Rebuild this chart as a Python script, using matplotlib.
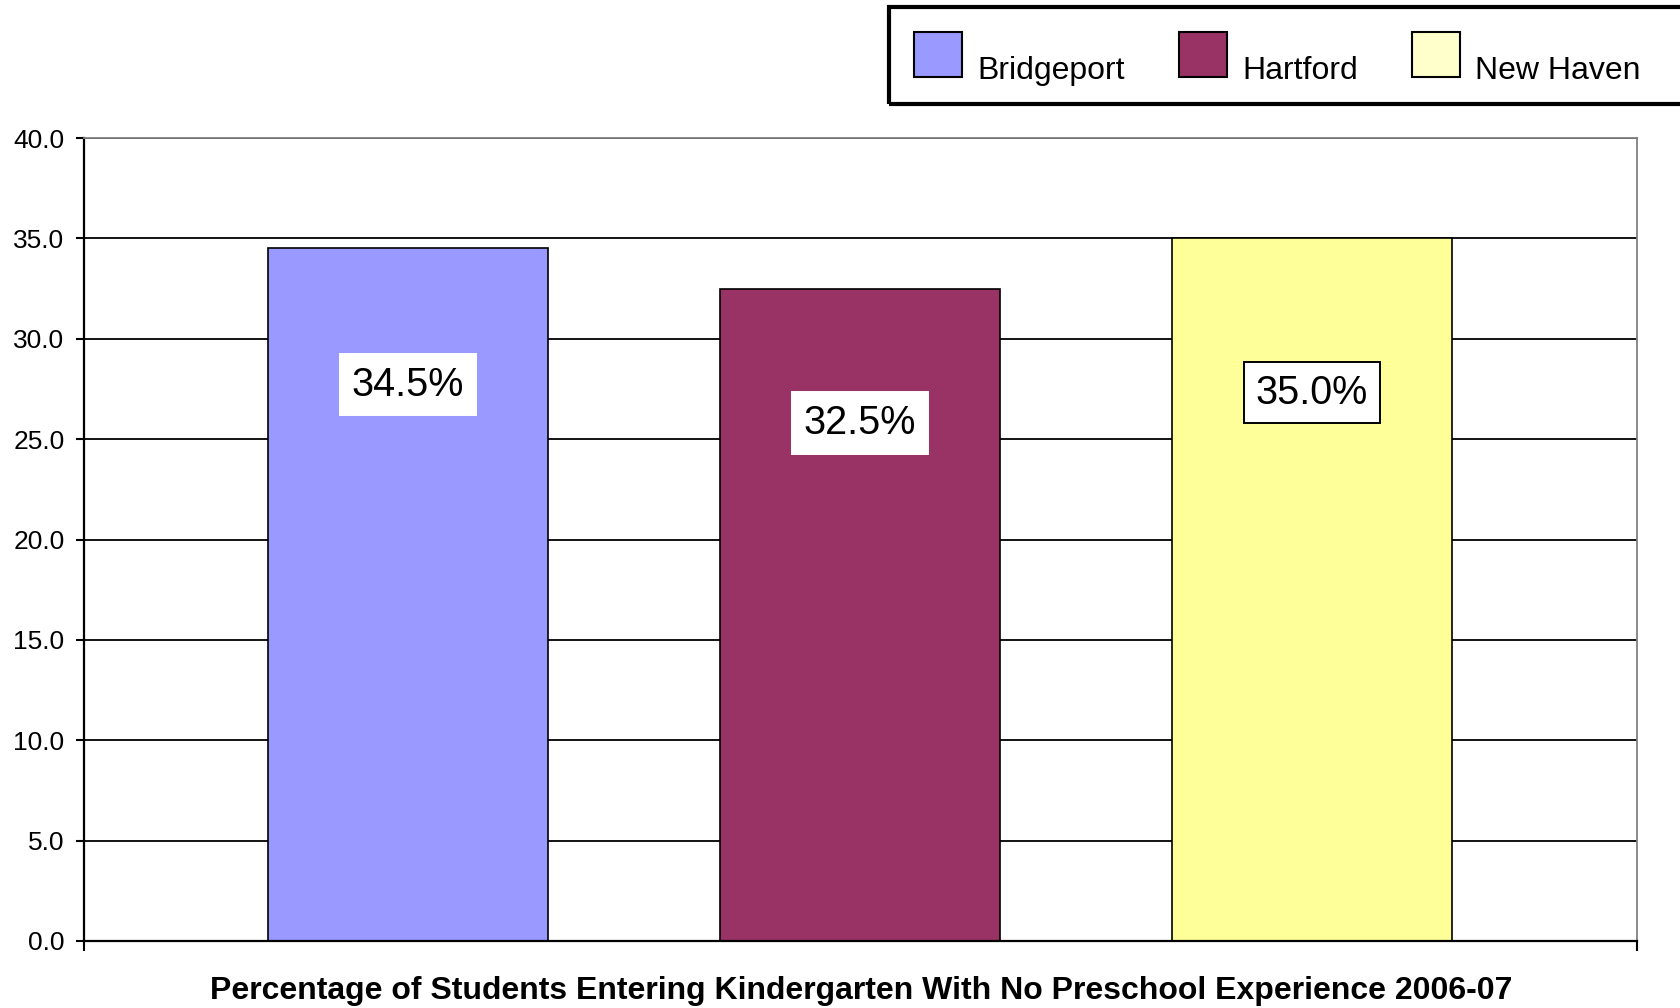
import matplotlib
matplotlib.use("Agg")
import matplotlib.pyplot as plt
from matplotlib.patches import Patch, Rectangle
from matplotlib.transforms import ScaledTranslation

plt.rcParams['font.family'] = ['Liberation Sans', 'DejaVu Sans']

# data
cities = ['Bridgeport', 'Hartford', 'New Haven']
pct_no_preschool = [34.5, 32.5, 35.0]
bar_colors = ['#9999FF', '#993366', '#FFFF99']
legend_colors = ['#9999FF', '#993366', '#FFFFCC']
yticks = [0, 5, 10, 15, 20, 25, 30, 35, 40]
title = 'Percentage of Students Entering Kindergarten With No Preschool Experience 2006-07'

fig = plt.figure(figsize=(16.8, 10.08), dpi=100)
ax = fig.add_axes([0.05, 0.0665, 0.9244, 0.7965])

x = list(range(len(cities)))
bars = ax.bar(x, pct_no_preschool, width=0.62, color=bar_colors,
              edgecolor='black', linewidth=1.2, zorder=3)

ax.set_xlim(-0.717, 2.719)
ax.set_ylim(0, 40)
ax.set_yticks(yticks)
ax.set_yticklabels(['%.1f' % v for v in yticks], fontsize=19)
ax.set_xticks([-0.717, 2.719])
ax.set_xticklabels(['', ''])
ax.tick_params(axis='y', direction='out', length=6, width=1.5, pad=8)
ax.tick_params(axis='x', direction='out', length=7, width=1.5)

ax.yaxis.grid(True, color='black', linewidth=1.3, zorder=0)
ax.set_axisbelow(True)
for s in ['left', 'bottom']:
    ax.spines[s].set_color('black')
    ax.spines[s].set_linewidth(1.6)
for s in ['top', 'right']:
    ax.spines[s].set_color('#808080')
    ax.spines[s].set_linewidth(1.3)
ax.spines['bottom'].set_zorder(4)

# data labels
offsets = [-98, -97, -111]
box_edges = ['white', 'white', 'black']
for xi, v, off, ec in zip(x, pct_no_preschool, offsets, box_edges):
    ax.annotate('%.1f%%' % v, xy=(xi, v), xytext=(0, off), textcoords='offset points',
                ha='center', va='center', fontsize=28.5, zorder=5,
                bbox=dict(boxstyle='square,pad=0.3', facecolor='white',
                          edgecolor=ec, linewidth=1.4))

# legend (frame drawn separately, it runs off the right edge)
handles = [Patch(facecolor=c, edgecolor='black', linewidth=1.5) for c in legend_colors]
leg = fig.legend(handles, cities, loc='upper left', bbox_to_anchor=(0.529, 0.994),
                 ncol=3, fontsize=23, frameon=False,
                 handlelength=1.5, handleheight=1.82, handletextpad=0.47,
                 columnspacing=1.7, borderpad=0.8, borderaxespad=0)
for t in leg.get_texts():
    t.set_transform(t.get_transform() + ScaledTranslation(0, -10 / 72, fig.dpi_scale_trans))
fig.patches.append(Rectangle((0.5292, 1 - 104 / 1008), 0.49, 97.5 / 1008,
                             transform=fig.transFigure, fill=False,
                             edgecolor='black', linewidth=3))

fig.text(0.5125, 0.017, title, ha='center', va='center', fontsize=23, fontweight='bold')

fig.savefig('out.png', dpi=100)
